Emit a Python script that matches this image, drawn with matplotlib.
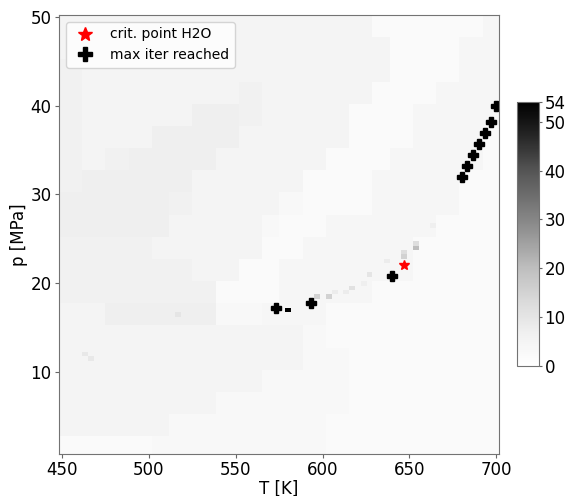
import numpy as np
import matplotlib
matplotlib.use("Agg")
import matplotlib.pyplot as plt

# coarse background of iteration counts, 20 x 20 blocks, rows from p=50 (top) down to p=1
background_rows = [
    "55555555555555222224",
    "55555555555555522244",
    "65555555555555522244",
    "65555555655555222444",
    "65555577655552224444",
    "65557777555552224442",
    "65677775555522244442",
    "67777755555222444422",
    "77777655553222444422",
    "77777555532244444222",
    "66665555522444442222",
    "66666655224444442222",
    "66666662224444222222",
    "55777773344422222222",
    "55555555555322222222",
    "55555555555332222222",
    "55555555533332222222",
    "55555553333332222222",
    "55555333333322222222",
    "22223333333322222222",
]

# single cells that took more iterations (T [K], p [MPa], iterations)
cell_T = [598.3, 601.7, 608.3, 611.7, 615.0, 621.7, 628.3, 638.3, 645.0, 645.0,
          651.7, 651.7, 661.7, 515.0, 461.7, 468.3, 580.0]
cell_p = [18.5, 18.5, 19.0, 19.0, 19.5, 20.0, 21.0, 22.5, 23.0, 23.5,
          24.0, 24.5, 26.5, 16.5, 12.0, 11.5, 17.0]
cell_val = [15, 15, 8, 8, 11, 7, 10, 8, 15, 12,
            20, 12, 7, 10, 9, 9, 54]

# points where the solver hit max iterations
max_T = [573.3, 593.3, 640.0, 680.0, 683.3, 686.7, 690.0, 693.3, 696.7, 700.0]
max_p = [17.2, 17.8, 20.8, 32.0, 33.2, 34.5, 35.7, 36.9, 38.2, 40.0]

T_crit = 647.1
p_crit = 22.064

T_grid = np.linspace(450, 700, 76)
p_grid = np.linspace(1, 50, 99)
dT = T_grid[1] - T_grid[0]
dp = p_grid[1] - p_grid[0]

coarse = np.array([[int(ch) for ch in row] for row in background_rows])
col_idx = (np.arange(len(T_grid)) * 20) // len(T_grid)
row_idx = ((len(p_grid) - 1 - np.arange(len(p_grid))) * 20) // len(p_grid)
iters = coarse[row_idx][:, col_idx].astype(float)

for T, p, v in zip(cell_T, cell_p, cell_val):
    i = int(round((T - T_grid[0]) / dT))
    j = int(round((p - p_grid[0]) / dp))
    iters[j, i] = v

fig = plt.figure(figsize=(5.68, 4.96), dpi=100)
ax = fig.add_axes([0.104, 0.085, 0.775, 0.885])

im = ax.imshow(iters, origin="lower", cmap="Greys", vmin=0, vmax=54,
               extent=[T_grid[0] - dT / 2, T_grid[-1] + dT / 2,
                       p_grid[0] - dp / 2, p_grid[-1] + dp / 2],
               aspect="auto", interpolation="nearest")

ax.plot(T_crit, p_crit, "*", color="red", ms=7, ls="none", label="crit. point H2O")
ax.plot(max_T, max_p, "P", color="black", ms=6.5, ls="none", label="max iter reached")

ax.set_xlabel("T [K]", fontsize=12, labelpad=0)
ax.set_ylabel("p [MPa]", fontsize=12, labelpad=2)
ax.set_xticks([450, 500, 550, 600, 650, 700])
ax.set_yticks([10, 20, 30, 40, 50])
ax.tick_params(labelsize=12, color="0.4", length=3, pad=2.5)
for s in ax.spines.values():
    s.set_color("0.45")

ax.legend(loc="upper left", fontsize=10, markerscale=1.45)

cax = fig.add_axes([0.910, 0.262, 0.039, 0.532])
cb = fig.colorbar(im, cax=cax, ticks=[0, 10, 20, 30, 40, 50, 54])
cb.ax.tick_params(labelsize=12, color="0.4", length=2.5, pad=1.5)
cb.outline.set_edgecolor("0.45")

plt.savefig("out.png", dpi=100)
